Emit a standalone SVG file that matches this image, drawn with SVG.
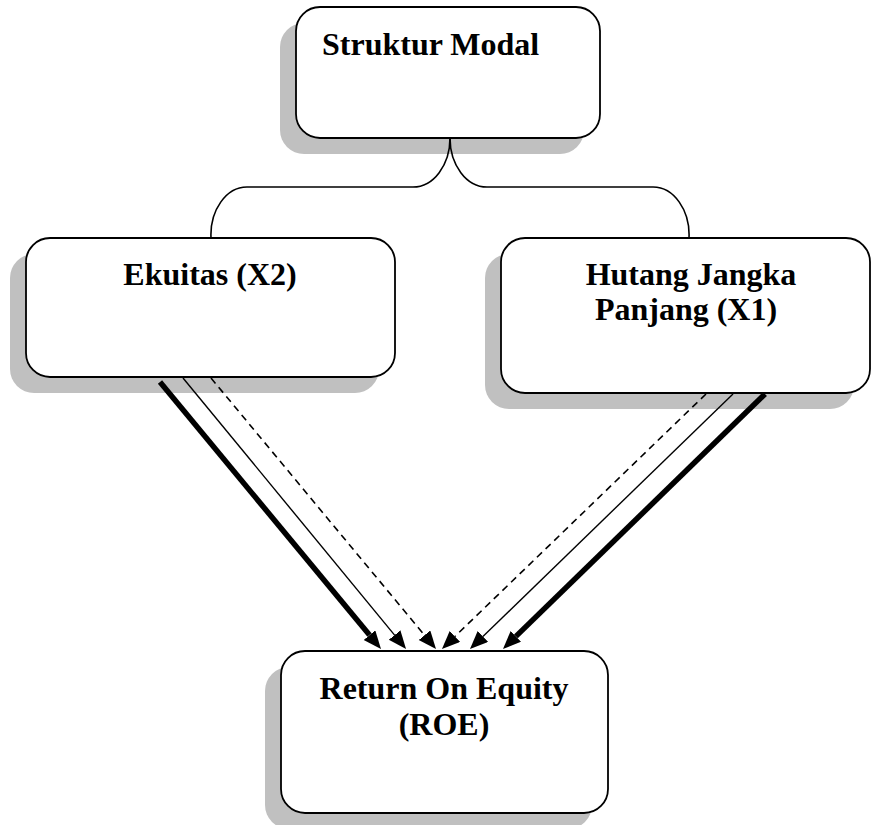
<svg xmlns="http://www.w3.org/2000/svg" width="872" height="825" viewBox="0 0 872 825">
<style>
.shadow{fill:#c0c0c0;stroke:none}
.box{fill:#ffffff;stroke:#000000;stroke-width:1.8}
.lbl{font-family:"Liberation Serif","Times New Roman",serif;font-weight:bold;font-size:32px;fill:#000000}
.mid{text-anchor:middle}
.brace{fill:none;stroke:#000000;stroke-width:1.6}
.thick{stroke:#000000;stroke-width:5.5;fill:none}
.thin{stroke:#000000;stroke-width:1.4;fill:none}
.dash{stroke:#000000;stroke-width:1.6;fill:none;stroke-dasharray:7 5}
</style>
<defs>
<marker id="ah" markerUnits="userSpaceOnUse" markerWidth="20" markerHeight="16" refX="0" refY="7.5" orient="auto">
<path d="M0,0 L18,7.5 L0,15 z" fill="#000000"/>
</marker>
</defs>
<g id="struktur-modal">
<rect class="shadow" x="280" y="23" width="304" height="131" rx="24"/>
<rect class="box" x="296" y="7" width="304" height="131" rx="24"/>
<text class="lbl" x="322" y="55">Struktur Modal</text>
</g>
<g id="ekuitas">
<rect class="shadow" x="10" y="254" width="369" height="139" rx="24"/>
<rect class="box" x="26" y="238" width="369" height="139" rx="24"/>
<text class="lbl mid" x="210" y="285">Ekuitas (X2)</text>
</g>
<g id="hutang">
<rect class="shadow" x="485" y="254" width="369" height="155" rx="24"/>
<rect class="box" x="501" y="238" width="369" height="155" rx="24"/>
<text class="lbl mid" x="691" y="285">Hutang Jangka</text>
<text class="lbl mid" x="686" y="320">Panjang (X1)</text>
</g>
<g id="roe">
<rect class="shadow" x="265" y="667" width="327" height="162" rx="24"/>
<rect class="box" x="281" y="651" width="327" height="162" rx="24"/>
<text class="lbl mid" x="444" y="699">Return On Equity</text>
<text class="lbl mid" x="444" y="735">(ROE)</text>
</g>
<g id="connectors">
<path class="brace" d="M450,138 A37,49 0 0 1 413,187 L247,187 A36,48 0 0 0 211,238"/>
<path class="brace" d="M450,138 A37,49 0 0 0 487,187 L653,187 A36,48 0 0 1 689,238"/>
<line class="thick" x1="160" y1="382" x2="369.5" y2="635.1" marker-end="url(#ah)"/>
<line class="thin" x1="183" y1="378" x2="394.6" y2="635.1" marker-end="url(#ah)"/>
<line class="dash" x1="211" y1="378" x2="424.5" y2="635.2" marker-end="url(#ah)"/>
<line class="dash" x1="706" y1="394" x2="454.9" y2="636.5" marker-end="url(#ah)"/>
<line class="thin" x1="733" y1="394" x2="482.9" y2="636.5" marker-end="url(#ah)"/>
<line class="thick" x1="765" y1="394" x2="515.9" y2="636.4" marker-end="url(#ah)"/>
</g>
</svg>
